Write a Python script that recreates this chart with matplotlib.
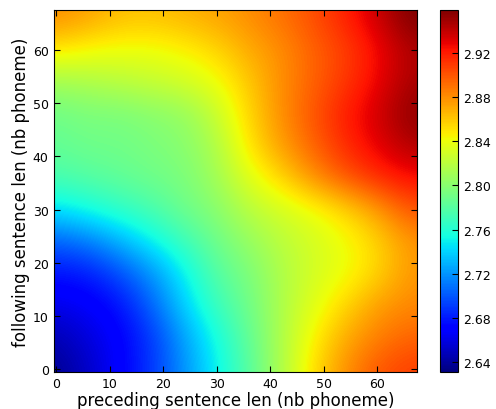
import matplotlib
matplotlib.use('Agg')
import matplotlib.pyplot as plt
import numpy as np

# sample positions (nb phoneme) of the coarse grid
grid_pos = [0, 6, 12, 18, 24, 30, 36, 42, 48, 54, 60, 66]

# rows go from following len = 0 (bottom) to 66 (top)
row_00 = [2.636, 2.652, 2.670, 2.690, 2.720, 2.750, 2.780, 2.815, 2.852, 2.880, 2.900, 2.908]
row_06 = [2.646, 2.658, 2.670, 2.690, 2.725, 2.755, 2.785, 2.815, 2.845, 2.870, 2.885, 2.895]
row_12 = [2.662, 2.667, 2.677, 2.705, 2.740, 2.770, 2.790, 2.815, 2.835, 2.855, 2.875, 2.882]
row_18 = [2.677, 2.680, 2.697, 2.720, 2.750, 2.780, 2.795, 2.815, 2.830, 2.840, 2.855, 2.877]
row_24 = [2.703, 2.712, 2.730, 2.750, 2.770, 2.790, 2.805, 2.820, 2.830, 2.840, 2.855, 2.877]
row_30 = [2.745, 2.755, 2.765, 2.775, 2.790, 2.800, 2.820, 2.830, 2.840, 2.855, 2.875, 2.900]
row_36 = [2.775, 2.780, 2.785, 2.790, 2.795, 2.810, 2.835, 2.855, 2.880, 2.900, 2.915, 2.925]
row_42 = [2.785, 2.790, 2.790, 2.795, 2.800, 2.815, 2.850, 2.875, 2.895, 2.915, 2.930, 2.945]
row_48 = [2.790, 2.795, 2.795, 2.800, 2.805, 2.825, 2.855, 2.880, 2.900, 2.920, 2.935, 2.955]
row_54 = [2.810, 2.815, 2.820, 2.825, 2.830, 2.840, 2.860, 2.880, 2.895, 2.910, 2.927, 2.947]
row_60 = [2.850, 2.843, 2.840, 2.840, 2.845, 2.855, 2.870, 2.880, 2.895, 2.907, 2.925, 2.945]
row_66 = [2.880, 2.873, 2.863, 2.862, 2.867, 2.872, 2.880, 2.890, 2.902, 2.918, 2.937, 2.960]

cbar_ticks = [2.64, 2.68, 2.72, 2.76, 2.80, 2.84, 2.88, 2.92]


def main():
    plt.rcParams['font.family'] = 'DejaVu Sans'
    plt.rcParams['xtick.direction'] = 'in'
    plt.rcParams['ytick.direction'] = 'in'

    field = np.array([row_00, row_06, row_12, row_18, row_24, row_30,
                      row_36, row_42, row_48, row_54, row_60, row_66])
    step = grid_pos[1] - grid_pos[0]
    ext = (grid_pos[0] - step / 2, grid_pos[-1] + step / 2,
           grid_pos[0] - step / 2, grid_pos[-1] + step / 2)

    fig = plt.figure(figsize=(4.96, 4.10), dpi=100)
    ax = fig.add_axes([0.108, 0.090, 0.733, 0.884])
    cax = fig.add_axes([0.887, 0.090, 0.036, 0.884])

    im = ax.imshow(field, origin='lower', cmap='jet', extent=ext,
                   interpolation='bicubic', vmin=2.631, vmax=2.959,
                   aspect='auto')
    ax.set_xlim(-0.5, 67.5)
    ax.set_ylim(-0.5, 67.5)
    ax.set_xticks(range(0, 61, 10))
    ax.set_yticks(range(0, 61, 10))
    ax.tick_params(top=True, right=True, labelsize=9, length=4)
    ax.set_xlabel('preceding sentence len (nb phoneme)', fontsize=12, labelpad=1)
    ax.set_ylabel('following sentence len (nb phoneme)', fontsize=12, labelpad=2)

    cb = fig.colorbar(im, cax=cax)
    cb.set_ticks(cbar_ticks)
    cb.ax.set_yticklabels(['%.2f' % t for t in cbar_ticks])
    cb.ax.tick_params(labelsize=9, direction='in', length=4)

    fig.savefig('out.png', dpi=100)


if __name__ == '__main__':
    main()
